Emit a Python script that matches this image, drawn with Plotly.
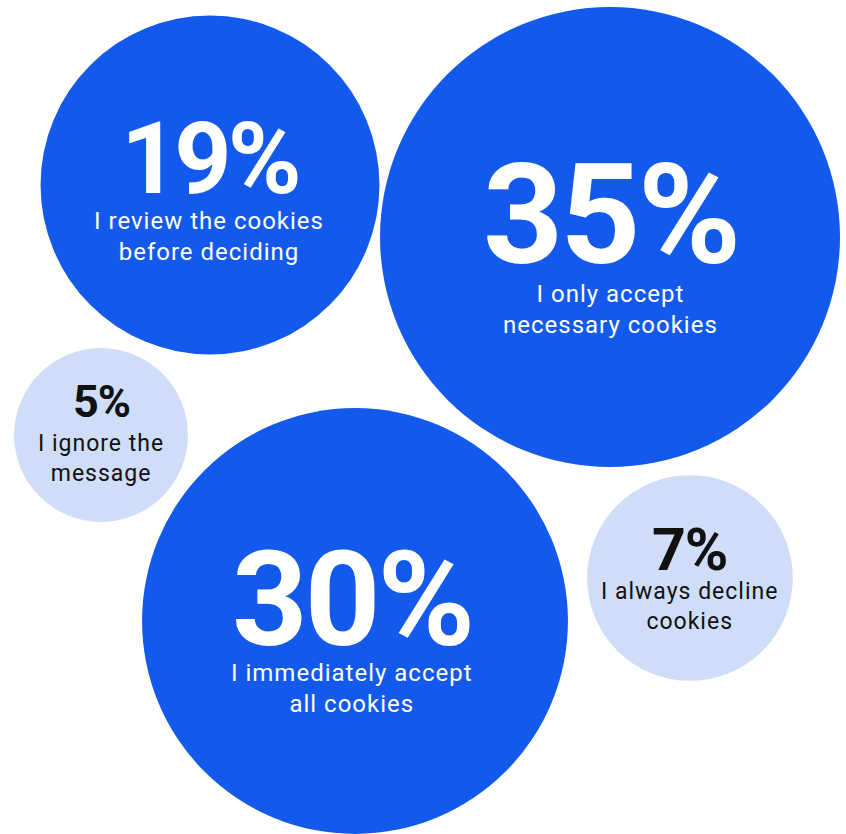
import plotly.graph_objects as go

# Survey answers: how people respond to cookie banners
answers = [
    "I review the cookies<br>before deciding",
    "I only accept<br>necessary cookies",
    "I ignore the<br>message",
    "I immediately accept<br>all cookies",
    "I always decline<br>cookies",
]
shares = [19, 35, 5, 30, 7]

# Bubble layout (canvas pixels, y measured downward)
center_x = [210, 610, 101, 355, 690]
center_y = [185, 237, 435, 621, 578]

# Per-bubble styling
BLUE = "#135AEC"
PALE = "#D0DDF8"
fill = [BLUE, BLUE, PALE, BLUE, PALE]
ink = ["#FFFFFF", "#FFFFFF", "#111111", "#FFFFFF", "#111111"]
pct_font = [100, 140, 45, 132, 59]
pct_tracking = [-4, -3, -1, -3, -1]
label_font = [24, 24, 23, 24, 23]
label_tracking = 1.0
pct_dy = [-27, -22, -34, -21, -29]
label_dy = [51, 72, 23, 67, 28]
text_dx = [-1, 0, 0, -3, -1]

W, H = 846, 834
max_diameter = 460
# area sizing: sizeref chosen so the largest share spans max_diameter pixels
sizeref = 2 * max(shares) / max_diameter ** 2


def tracked(text, px):
    lines = text.split("<br>")
    return "<br>".join(f'<span style="letter-spacing:{px}px">{ln}</span>' for ln in lines)


fig = go.Figure(
    go.Scatter(
        x=center_x,
        y=center_y,
        mode="markers",
        marker=dict(
            size=shares,
            sizemode="area",
            sizeref=sizeref,
            color=fill,
            opacity=1,
            line=dict(width=0),
        ),
        hoverinfo="skip",
        cliponaxis=False,
    )
)

for i, (ans, v) in enumerate(zip(answers, shares)):
    fig.add_annotation(
        x=center_x[i], y=center_y[i], xref="x", yref="y",
        text=tracked(f"<b>{v}%</b>", pct_tracking[i]), showarrow=False,
        xanchor="center", yanchor="middle",
        xshift=text_dx[i], yshift=-pct_dy[i],
        font=dict(family="Roboto", size=pct_font[i], color=ink[i]),
    )
    fig.add_annotation(
        x=center_x[i], y=center_y[i], xref="x", yref="y",
        text=tracked(ans, label_tracking), showarrow=False, align="center",
        xanchor="center", yanchor="middle",
        xshift=text_dx[i], yshift=-label_dy[i],
        font=dict(family="Roboto", size=label_font[i], color=ink[i]),
    )

fig.update_xaxes(range=[0, W], visible=False, fixedrange=True)
fig.update_yaxes(range=[H, 0], visible=False, fixedrange=True)
fig.update_layout(
    width=W, height=H,
    margin=dict(l=0, r=0, t=0, b=0),
    paper_bgcolor="white", plot_bgcolor="white",
    showlegend=False,
)

fig.write_html("out.html")
